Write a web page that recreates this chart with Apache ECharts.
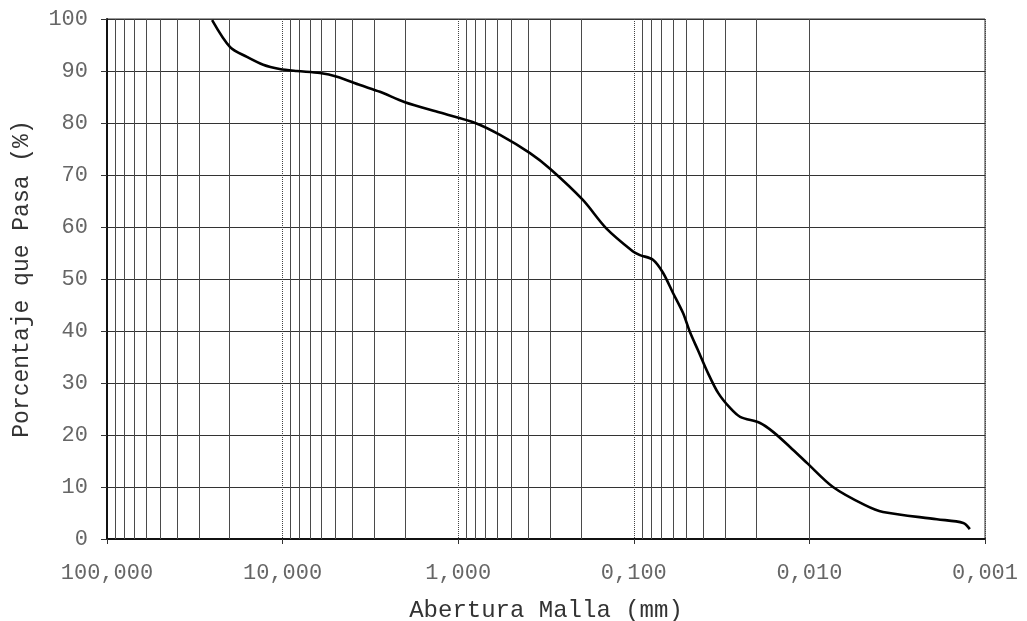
<!DOCTYPE html>
<html>
<head>
<meta charset="utf-8">
<script src="https://cdn.jsdelivr.net/npm/echarts@6/dist/echarts.min.js"></script>
<style>html,body{margin:0;padding:0;background:#fff}#c{width:1027px;height:621px}</style>
</head>
<body>
<div id="c"></div>
<script>
// Data
var sizesMm = [25.2, 19.9, 15.96, 12.9, 10.4, 8.28, 6.12, 4.90, 3.62, 2.79, 2.01, 1.27, 0.80, 0.578, 0.39, 0.300, 0.195, 0.144, 0.101, 0.0922, 0.0778, 0.0682, 0.0598, 0.0525, 0.0479, 0.0431, 0.0378, 0.0331, 0.0283, 0.0248, 0.0191, 0.0161, 0.0129, 0.0103, 0.00734, 0.00482, 0.00381, 0.00188, 0.00133, 0.00122];
var passingPct = [99.8, 94.6, 92.7, 91.2, 90.4, 90.0, 89.6, 88.9, 87.3, 86.0, 84.0, 82.0, 80.0, 77.7, 74.2, 71.2, 65.2, 59.8, 55.3, 54.6, 53.7, 51.2, 47.3, 43.5, 39.8, 36.3, 31.9, 28.1, 25.2, 23.5, 22.3, 20.6, 17.7, 14.6, 10.0, 6.5, 5.2, 3.8, 3.1, 1.9];
var decades = [10, 1, 0.1, 0.01, 0.001];
var minorMultipliers = [2, 3, 4, 5, 6, 7, 8, 9];
var xTitle = 'Abertura Malla (mm)';
var yTitle = 'Porcentaje que Pasa (%)';

var minorValues = [];
decades.forEach(function (d) {
  minorMultipliers.forEach(function (m) { minorValues.push(+(m * d).toPrecision(6)); });
});

var font = '"Liberation Mono", "DejaVu Sans Mono", monospace';
var chart = echarts.init(document.getElementById('c'));
chart.setOption({
  animation: false,
  grid: { left: 107, right: 42, top: 19, bottom: 82, containLabel: false, outerBoundsMode: 'none',
    show: true, borderColor: '#333', borderWidth: 1, backgroundColor: 'transparent' },
  xAxis: {
    type: 'log', logBase: 10, min: 0.001, max: 100, inverse: true,
    name: xTitle, nameLocation: 'middle', nameGap: 60,
    nameTextStyle: { fontFamily: font, fontSize: 24, color: '#333' },
    axisLine: { lineStyle: { color: '#111', width: 2 } },
    axisTick: { show: true, length: 5, lineStyle: { color: '#333' } },
    axisLabel: { fontFamily: font, fontSize: 22, color: '#666', margin: 23,
      formatter: function (v) { return Number(v).toFixed(3).replace('.', ','); } },
    splitLine: { show: true, lineStyle: { color: '#444', type: 'dotted', width: 1 } }
  },
  yAxis: {
    type: 'value', min: 0, max: 100, interval: 10,
    name: yTitle, nameLocation: 'middle', nameGap: 74,
    nameTextStyle: { fontFamily: font, fontSize: 23, color: '#333' },
    axisLine: { show: true, lineStyle: { color: '#111', width: 2 } },
    axisTick: { show: true, length: 6, lineStyle: { color: '#333' } },
    axisLabel: { fontFamily: font, fontSize: 22, color: '#666', margin: 19 },
    splitLine: { show: true, lineStyle: { color: '#333', width: 1 } }
  },
  series: [
    {
      type: 'line', data: [], silent: true, z: 1,
      markLine: {
        silent: true, symbol: 'none', animation: false,
        label: { show: false },
        lineStyle: { color: '#4a4a4a', type: 'solid', width: 1 },
        data: minorValues.map(function (v) { return { xAxis: v }; })
      }
    },
    {
      type: 'line', z: 5, smooth: 0.3, showSymbol: false,
      lineStyle: { color: '#000', width: 2.6 },
      data: sizesMm.map(function (s, i) { return [s, passingPct[i]]; })
    }
  ]
});
</script>
</body>
</html>
